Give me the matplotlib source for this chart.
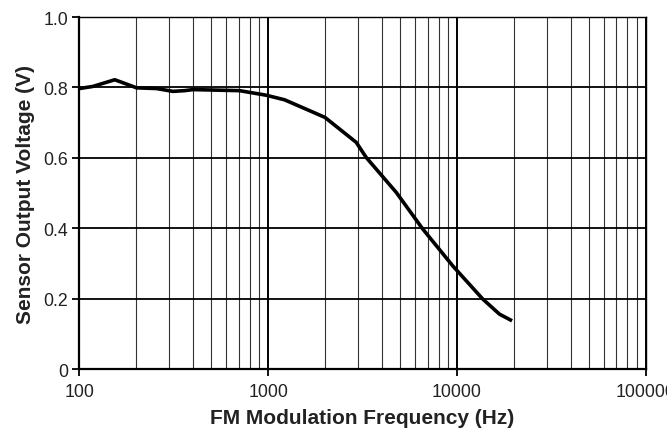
import numpy as np
import matplotlib.pyplot as plt
from matplotlib.ticker import FixedLocator, NullFormatter

plt.rcParams['font.family'] = ['Liberation Sans', 'DejaVu Sans']

# curve
freq = [100, 118, 154, 201, 256, 313, 361, 400, 706, 977, 1222, 1660, 2000,
        2930, 3310, 4770, 6590, 9510, 13700, 16800, 19600]
volts = [0.797, 0.803, 0.822, 0.799, 0.797, 0.789, 0.791, 0.794, 0.791, 0.778,
         0.765, 0.734, 0.715, 0.644, 0.601, 0.502, 0.398, 0.293, 0.199, 0.156,
         0.137]

xticks = [100, 1000, 10000, 100000]
xticklabels = ['100', '1000', '10000', '100000']
yticks = [0, 0.2, 0.4, 0.6, 0.8, 1.0]
yticklabels = ['0', '0.2', '0.4', '0.6', '0.8', '1.0']

fig = plt.figure(figsize=(6.67, 4.31), dpi=100)
ax = fig.add_axes([0.119, 0.1415, 0.849, 0.8165])

ax.set_xscale('log')
ax.set_xlim(100, 100000)
ax.set_ylim(0, 1.0)

minors = [m * d for d in [100, 1000, 10000] for m in range(2, 10)]
ax.xaxis.set_minor_locator(FixedLocator(minors))
ax.xaxis.set_minor_formatter(NullFormatter())
ax.set_xticks(xticks)
ax.set_xticklabels(xticklabels)
ax.set_yticks(yticks)
ax.set_yticklabels(yticklabels)

ax.grid(which='major', axis='x', color='black', linewidth=1.4)
ax.grid(which='minor', axis='x', color='#333333', linewidth=0.8)
ax.grid(which='major', axis='y', color='black', linewidth=1.3)
ax.set_axisbelow(True)

ax.plot(freq, volts, color='black', linewidth=2.6, solid_capstyle='butt')

for s in ax.spines.values():
    s.set_linewidth(1.0)
ax.spines['left'].set_linewidth(1.6)
ax.spines['bottom'].set_linewidth(1.6)

ax.tick_params(axis='both', which='major', direction='out', length=5, width=1.3,
               labelsize=12.8, colors='black', labelcolor='#222222')
ax.tick_params(axis='x', which='minor', length=0)
ax.tick_params(axis='x', pad=5)
ax.tick_params(axis='y', pad=3)

ax.set_xlabel('FM Modulation Frequency (Hz)', fontsize=15, fontweight='bold',
              color='#222222', labelpad=6)
ax.set_ylabel('Sensor Output Voltage (V)', fontsize=15, fontweight='bold',
              color='#222222', labelpad=6)

fig.savefig('out.png', dpi=100)
